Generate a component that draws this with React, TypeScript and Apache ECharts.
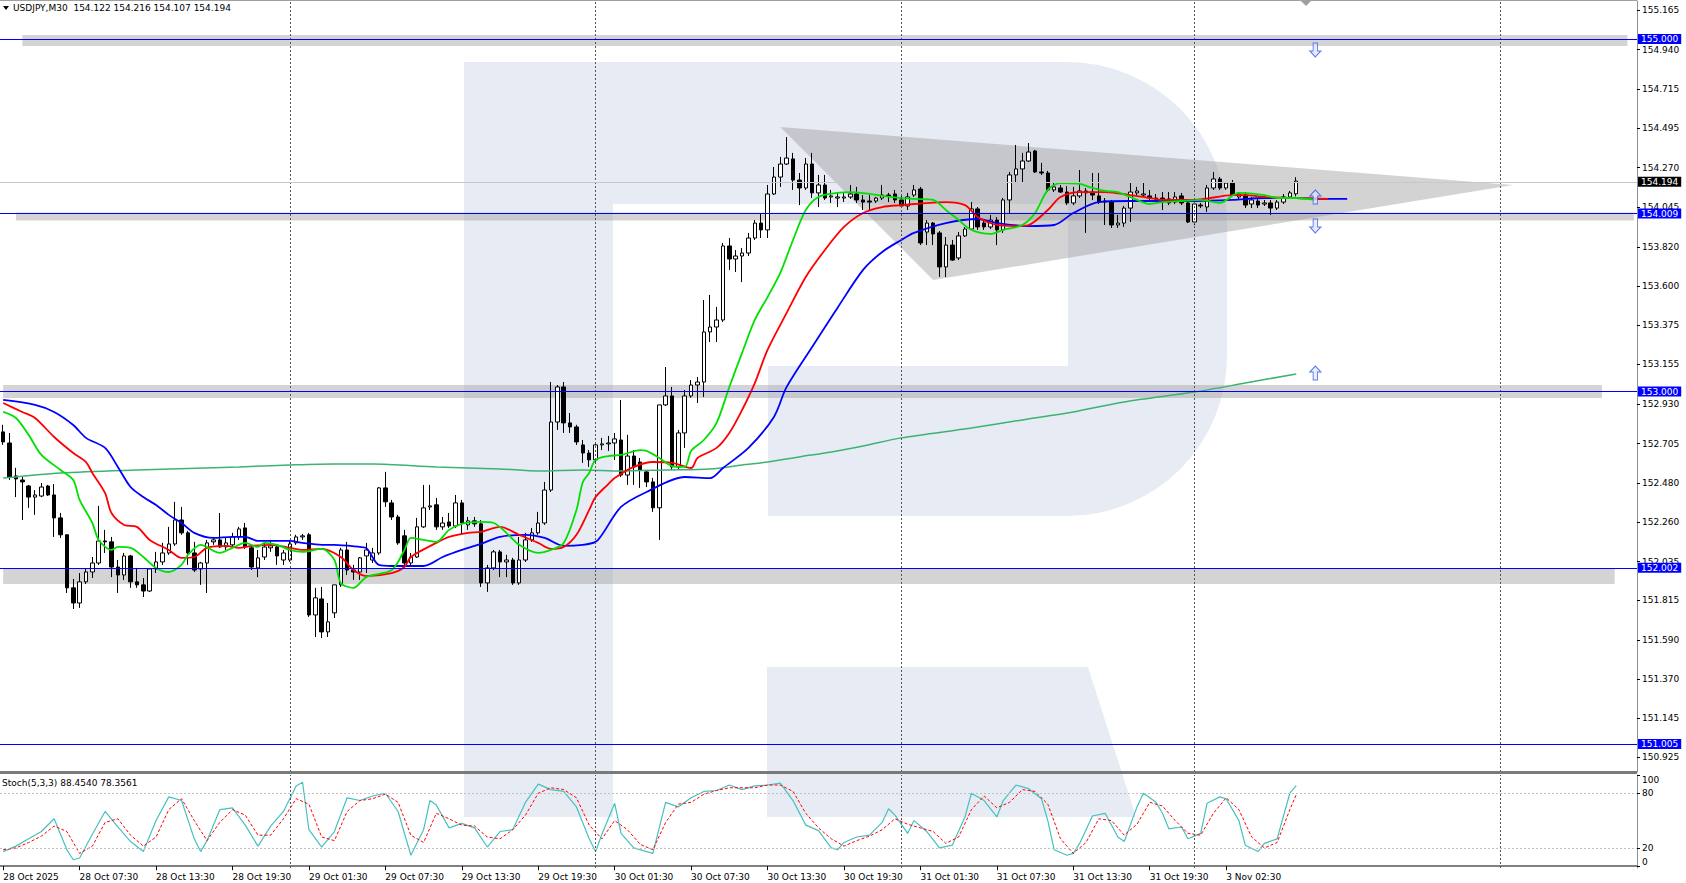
import React, { useEffect, useRef } from "react";
import * as echarts from "echarts";

const FONT = "DejaVu Sans";

const priceTicks = [155.165, 154.94, 154.715, 154.495, 154.27, 154.045, 153.82, 153.6, 153.375, 153.155, 152.93, 152.705, 152.48, 152.26, 152.035, 151.815, 151.59, 151.37, 151.145, 150.925];
const stochTicks = [100, 80, 20, 0];
const timeLabels = ["28 Oct 2025", "28 Oct 07:30", "28 Oct 13:30", "28 Oct 19:30", "29 Oct 01:30", "29 Oct 07:30", "29 Oct 13:30", "29 Oct 19:30", "30 Oct 01:30", "30 Oct 07:30", "30 Oct 13:30", "30 Oct 19:30", "31 Oct 01:30", "31 Oct 07:30", "31 Oct 13:30", "31 Oct 19:30", "3 Nov 02:30"];

const opens = [152.771,152.708,152.521,152.498,152.464,152.401,152.407,152.464,152.413,152.283,152.187,151.886,151.8,151.92,151.976,152.027,152.152,152.147,152.004,151.959,152.067,151.92,151.903,151.868,151.993,152.033,152.084,152.135,152.271,152.198,152.084,151.993,152.027,152.147,152.158,152.118,152.13,152.175,152.226,152.113,151.999,152.061,152.113,152.118,152.044,152.044,152.141,152.175,152.187,151.732,151.823,151.636,151.744,151.903,152.101,151.987,151.976,152.067,152.044,152.084,152.453,152.368,152.288,152.181,152.027,152.061,152.232,152.345,152.357,152.232,152.26,152.237,152.368,152.243,152.266,152.249,151.914,151.999,152.09,152.033,152.044,151.914,152.044,152.158,152.198,152.254,152.441,152.827,153.026,152.822,152.799,152.697,152.651,152.612,152.697,152.703,152.708,152.725,152.526,152.634,152.6,152.544,152.487,152.34,152.924,152.975,152.572,152.765,152.975,153.037,153.054,153.338,153.366,153.406,153.826,153.752,153.769,153.786,153.871,153.956,153.917,154.121,154.217,154.291,154.32,154.2,154.155,154.291,154.127,154.172,154.104,154.098,154.098,154.104,154.121,154.087,154.081,154.081,154.098,154.115,154.121,154.087,154.053,154.115,154.149,153.905,153.956,153.9,153.707,153.831,153.758,153.883,153.922,154.036,153.956,153.934,153.973,153.917,154.087,154.229,154.263,154.308,154.365,154.246,154.24,154.144,154.155,154.132,154.07,154.11,154.138,154.132,154.11,154.081,154.075,153.945,153.956,154.041,154.127,154.115,154.11,154.098,154.098,154.093,154.075,154.11,154.07,153.962,154.058,154.047,154.155,154.206,154.155,154.183,154.104,154.115,154.064,154.081,154.064,154.07,154.041,154.075,154.104,154.122];
const highs = [152.811,152.765,152.567,152.515,152.47,152.441,152.481,152.47,152.475,152.311,152.187,151.936,151.97,151.999,152.061,152.351,152.215,152.175,152.044,152.084,152.073,151.999,151.942,151.999,152.09,152.141,152.232,152.374,152.345,152.209,152.147,152.033,152.158,152.175,152.311,152.169,152.198,152.232,152.254,152.124,152.101,152.141,152.158,152.13,152.101,152.158,152.187,152.192,152.198,151.886,151.891,151.8,151.903,152.113,152.147,152.016,152.061,152.141,152.113,152.458,152.544,152.385,152.3,152.215,152.084,152.283,152.47,152.47,152.396,152.288,152.311,152.413,152.385,152.288,152.288,152.271,152.016,152.101,152.101,152.073,152.056,152.175,152.198,152.226,152.317,152.487,153.054,153.037,153.054,152.878,152.811,152.725,152.668,152.708,152.737,152.748,152.765,152.952,152.754,152.668,152.623,152.555,152.51,152.924,153.139,153.026,152.782,153.009,153.065,153.082,153.519,153.548,153.48,153.843,153.871,153.803,153.814,153.9,153.973,154.013,154.172,154.274,154.331,154.444,154.354,154.24,154.325,154.354,154.229,154.229,154.144,154.132,154.132,154.172,154.161,154.115,154.115,154.104,154.172,154.127,154.144,154.115,154.127,154.172,154.161,153.973,153.962,153.911,153.877,153.86,153.905,153.934,154.075,154.047,153.973,154.002,153.99,154.098,154.246,154.399,154.354,154.41,154.371,154.297,154.252,154.183,154.172,154.166,154.161,154.257,154.155,154.24,154.24,154.098,154.087,154.002,154.053,154.183,154.161,154.183,154.144,154.121,154.132,154.132,154.132,154.127,154.081,154.07,154.07,154.172,154.246,154.217,154.189,154.2,154.132,154.132,154.104,154.098,154.087,154.087,154.087,154.121,154.138,154.216];
const lows = [152.697,152.498,152.401,152.271,152.34,152.3,152.401,152.407,152.175,152.169,151.857,151.766,151.772,151.908,151.942,152.016,152.084,151.947,151.857,151.931,151.886,151.886,151.834,151.863,151.97,152.016,152.073,152.124,152.187,152.016,151.976,151.903,151.857,152.13,152.113,152.101,152.113,152.158,152.107,151.987,151.947,152.044,152.09,152.016,152.016,152.033,152.13,152.158,151.721,151.607,151.601,151.607,151.715,151.891,151.959,151.931,151.931,151.97,152.027,152.073,152.345,152.271,152.13,152.016,152.01,152.056,152.226,152.328,152.215,152.215,152.226,152.226,152.187,152.215,152.232,151.891,151.863,151.987,151.947,151.947,151.903,151.903,152.033,152.147,152.187,152.243,152.43,152.782,152.765,152.765,152.697,152.595,152.572,152.6,152.668,152.663,152.612,152.515,152.47,152.47,152.453,152.458,152.317,152.158,152.918,152.555,152.555,152.68,152.964,152.935,152.969,153.281,153.281,153.395,153.69,153.678,153.621,153.769,153.86,153.871,153.871,154.115,154.161,154.286,154.144,154.058,154.144,154.098,154.047,154.087,154.07,154.047,154.075,154.093,154.07,154.03,154.03,154.07,154.087,154.075,154.07,154.041,154.03,154.104,153.831,153.831,153.831,153.65,153.65,153.741,153.746,153.877,153.917,153.917,153.917,153.922,153.831,153.9,154.013,154.183,154.183,154.303,154.24,154.229,154.132,154.132,154.127,154.058,154.058,154.098,153.9,154.087,154.064,153.945,153.928,153.928,153.934,153.962,154.11,154.104,154.075,154.081,154.03,154.058,154.064,154.058,153.956,153.945,154.041,154.019,154.144,154.144,154.144,154.11,154.087,154.041,154.041,154.041,154.053,154.002,154.03,154.064,154.093,154.107];
const closes = [152.714,152.515,152.504,152.487,152.401,152.413,152.458,152.413,152.283,152.187,151.886,151.8,151.92,151.976,152.027,152.152,152.147,152.004,151.959,152.067,151.92,151.903,151.868,151.993,152.033,152.084,152.135,152.271,152.198,152.084,151.987,152.027,152.141,152.158,152.118,152.141,152.175,152.22,152.118,152.004,152.056,152.118,152.124,152.067,152.084,152.135,152.175,152.181,151.732,151.829,151.636,151.693,151.903,152.101,151.987,151.976,152.056,152.101,152.084,152.453,152.374,152.288,152.141,152.027,152.061,152.232,152.34,152.351,152.232,152.254,152.237,152.368,152.254,152.266,152.249,151.914,151.999,152.09,152.033,152.044,151.914,152.044,152.158,152.198,152.254,152.441,152.827,153.026,152.822,152.799,152.714,152.651,152.612,152.697,152.703,152.708,152.731,152.526,152.634,152.572,152.555,152.487,152.34,152.924,152.975,152.572,152.765,152.975,153.037,153.054,153.338,153.366,153.406,153.826,153.752,153.769,153.786,153.871,153.956,153.917,154.121,154.217,154.291,154.325,154.2,154.155,154.291,154.127,154.172,154.098,154.11,154.104,154.104,154.121,154.087,154.075,154.075,154.098,154.115,154.11,154.087,154.053,154.104,154.144,153.843,153.956,153.894,153.707,153.831,153.746,153.883,153.922,154.036,153.934,153.934,153.973,153.917,154.087,154.229,154.263,154.308,154.359,154.246,154.24,154.144,154.161,154.132,154.07,154.11,154.138,154.127,154.115,154.075,154.075,153.945,153.956,154.041,154.132,154.138,154.121,154.098,154.093,154.087,154.07,154.104,154.07,153.962,154.064,154.053,154.155,154.206,154.155,154.183,154.115,154.121,154.058,154.087,154.058,154.07,154.041,154.075,154.104,154.127,154.194];

// Alligator lines and long MA, read as [bar, price]
const jaw = [[0,152.952],[5,152.924],[8,152.884],[11,152.81],[13,152.737],[16,152.68],[18,152.572],[20,152.458],[22,152.401],[24,152.356],[26,152.3],[28,152.254],[30,152.198],[33,152.169],[36,152.175],[38,152.175],[40,152.152],[45,152.152],[47,152.141],[50,152.13],[52,152.13],[56,152.118],[57,152.112],[59,152.016],[61,152.01],[66,152.01],[69,152.061],[72,152.101],[75,152.135],[78,152.175],[82,152.187],[85,152.169],[88,152.124],[91,152.13],[93,152.147],[94,152.187],[97,152.345],[101,152.43],[107,152.515],[111,152.509],[113,152.566],[117,152.68],[121,152.856],[123,153.026],[127,153.253],[131,153.476],[135,153.69],[138,153.792],[141,153.86],[143,153.9],[148,153.956],[153,153.979],[156,153.956],[161,153.939],[165,153.945],[168,154.013],[172,154.075],[177,154.081],[182,154.081],[187,154.081],[193,154.087],[198,154.098],[203,154.098],[207,154.093],[211,154.093]];
const teeth = [[0,152.935],[3,152.884],[5,152.85],[8,152.742],[11,152.651],[13,152.6],[14,152.538],[16,152.424],[17,152.311],[19,152.243],[21,152.232],[23,152.158],[26,152.101],[28,152.056],[30,152.061],[32,152.113],[35,152.124],[37,152.113],[39,152.124],[42,152.13],[45,152.113],[47,152.101],[50,152.107],[53,152.061],[55,151.987],[57,151.953],[61,151.97],[63,152.004],[64,152.061],[68,152.141],[70,152.175],[73,152.198],[75,152.203],[78,152.232],[81,152.187],[84,152.141],[86,152.107],[88,152.118],[90,152.187],[92,152.328],[93,152.401],[95,152.475],[96,152.509],[99,152.572],[102,152.6],[105,152.595],[108,152.566],[109,152.623],[112,152.68],[114,152.765],[116,152.895],[118,153.048],[120,153.236],[123,153.446],[126,153.65],[129,153.803],[132,153.934],[135,154.013],[138,154.047],[141,154.058],[143,154.064],[148,154.075],[151,154.058],[153,153.99],[156,153.945],[159,153.939],[161,153.945],[164,154.03],[166,154.104],[169,154.132],[173,154.132],[177,154.115],[180,154.098],[182,154.087],[187,154.087],[193,154.115],[195,154.115],[198,154.104],[203,154.098],[208,154.093]];
const lips = [[0,152.884],[2,152.85],[4,152.754],[6,152.64],[9,152.555],[11,152.498],[12,152.385],[14,152.254],[15,152.158],[17,152.101],[18,152.118],[20,152.113],[22,152.061],[24,151.999],[26,151.976],[28,152.016],[29,152.073],[31,152.13],[34,152.084],[36,152.113],[38,152.141],[40,152.118],[41,152.141],[43,152.13],[45,152.101],[47,152.09],[50,152.107],[52,152.044],[53,151.914],[55,151.886],[57,151.947],[61,151.987],[63,152.101],[64,152.169],[66,152.158],[68,152.147],[70,152.215],[72,152.249],[75,152.26],[77,152.254],[79,152.198],[81,152.13],[84,152.084],[86,152.101],[88,152.141],[90,152.328],[91,152.487],[92,152.538],[93,152.612],[95,152.634],[97,152.64],[100,152.668],[101,152.663],[103,152.623],[105,152.577],[107,152.572],[108,152.663],[110,152.725],[112,152.822],[114,153.026],[116,153.219],[118,153.406],[120,153.536],[122,153.673],[124,153.86],[126,154.03],[128,154.104],[131,154.127],[133,154.132],[136,154.121],[138,154.11],[141,154.098],[143,154.093],[146,154.087],[148,154.03],[150,153.973],[152,153.917],[155,153.894],[157,153.917],[160,153.945],[162,154.013],[164,154.144],[166,154.183],[169,154.178],[171,154.155],[173,154.138],[175,154.132],[178,154.087],[180,154.064],[182,154.075],[185,154.081],[188,154.087],[191,154.07],[194,154.127],[198,154.115],[200,154.098],[203,154.098],[206,154.087]];
const slowMA = [[0,152.509],[9,152.538],[21,152.555],[37,152.572],[45,152.583],[52,152.589],[58,152.589],[68,152.572],[78,152.561],[84,152.549],[91,152.555],[97,152.549],[104,152.555],[111,152.561],[116,152.583],[120,152.6],[125,152.629],[130,152.657],[135,152.691],[141,152.737],[152,152.793],[160,152.839],[168,152.884],[176,152.941],[187,152.997],[195,153.048],[203,153.1]];

const stochK = [[0,16],[2,22],[4,30],[6,38],[8,52],[10,18],[11,7],[12,9],[14,35],[16,60],[18,43],[20,27],[22,16],[24,50],[26,76],[28,72],[30,30],[31,16],[32,28],[34,62],[36,64],[38,45],[40,22],[42,44],[44,60],[46,88],[47,92],[48,40],[50,21],[52,38],[54,75],[56,72],[58,77],[60,80],[62,60],[64,12],[66,40],[67,72],[68,67],[70,42],[72,47],[74,42],[76,21],[78,38],[80,40],[82,70],[84,90],[86,84],[88,82],[90,65],[92,30],[93,16],[94,35],[96,69],[97,36],[99,20],[102,14],[104,70],[106,65],[108,75],[110,82],[112,83],[114,89],[116,84],[118,88],[120,89],[122,91],[124,72],[126,45],[128,39],[130,20],[131,18],[132,26],[134,32],[136,34],[138,48],[139,63],[140,56],[142,36],[143,50],[145,38],[147,20],[149,23],[151,54],[152,80],[154,72],[156,54],[157,72],[159,89],[161,85],[163,74],[164,50],[165,18],[167,12],[168,14],[169,25],[171,55],[173,58],[175,32],[176,27],[178,65],[179,80],[181,70],[182,58],[183,41],[185,43],[186,30],[188,36],[189,69],[191,76],[192,74],[194,50],[195,23],[197,16],[198,25],[200,30],[201,55],[202,80],[203,88.454]];
const stochD = [[0,18],[2,20],[4,26],[6,33],[8,44],[10,38],[12,14],[14,22],[16,48],[18,52],[20,34],[22,22],[24,32],[26,62],[28,74],[30,50],[32,28],[34,48],[36,62],[38,56],[40,34],[42,34],[44,52],[46,74],[48,68],[50,32],[52,28],[54,60],[56,72],[58,74],[60,79],[62,70],[64,34],[66,26],[68,58],[70,52],[72,45],[74,44],[76,32],[78,30],[80,40],[82,56],[84,80],[86,86],[88,84],[90,75],[92,45],[94,30],[96,50],[98,40],[100,24],[102,18],[104,48],[106,68],[108,70],[110,79],[112,83],[114,86],[116,86],[118,86],[120,89],[122,89],[124,82],[126,58],[128,42],[130,30],[132,22],[134,28],[136,33],[138,40],[140,52],[142,46],[144,42],[146,38],[148,25],[150,32],[152,62],[154,77],[156,64],[158,70],[160,84],[162,82],[164,68],[166,30],[168,14],[170,26],[172,52],[174,50],[176,34],[178,46],[180,70],[182,66],[184,50],[186,36],[188,34],[190,58],[192,75],[194,62],[196,32],[198,20],[200,26],[202,62],[203,78.356]];

const levels = [155.0, 154.009, 153.0, 152.002, 151.005];
const lastPrice = 154.194;
// zones: [fromBar, toBar, top, bottom]
const zones = [[3, 255, 155.023, 154.961], [2, 256, 154.016, 153.971], [0, 251, 153.037, 152.963], [0, 253, 151.999, 151.908]];
const triangle = [[122, 154.501], [237, 154.172], [146, 153.633]];
const arrows = [[206, 154.938, "down"], [206, 154.104, "up"], [206, 153.939, "down"], [206, 153.105, "up"]];
const daySeparators = [45, 93, 141, 187, 235];
const header = "USDJPY,M30  154.122 154.216 154.107 154.194";
const stochTitle = "Stoch(5,3,3) 88.4540 78.3561";

function buildCategories(): string[] {
  const months = ["Jan", "Feb", "Mar", "Apr", "May", "Jun", "Jul", "Aug", "Sep", "Oct", "Nov", "Dec"];
  const pad = (n: number) => (n < 10 ? "0" + n : "" + n);
  const start = Date.UTC(2025, 9, 28, 1, 30);
  const out: string[] = [];
  for (let i = 0; i < 257; i++) {
    let t = start + i * 1800000;
    if (i >= 187) t += 49 * 3600000;
    const d = new Date(t);
    out.push(`${d.getUTCDate()} ${months[d.getUTCMonth()]} ${pad(d.getUTCHours())}:${pad(d.getUTCMinutes())}`);
  }
  return out;
}

const UP = "path://M5 0 L10 6 L7 6 L7 14 L3 14 L3 6 L0 6 Z";
const DOWN = "path://M3 0 L7 0 L7 8 L10 8 L5 14 L0 8 L3 8 Z";

export default function App() {
  const ref = useRef<HTMLDivElement>(null);
  useEffect(() => {
    const chart = echarts.init(ref.current!, null, { renderer: "svg" });
    const cats = buildCategories();
    const labelSet = new Set(timeLabels);
    const showLabel = (i: number, v: string) => i === 0 || labelSet.has(v);
    const candleData = opens.map((o, i) => [o, closes[i], lows[i], highs[i]]);
    const WM = "#e7ebf3";
    const txt = { fontFamily: FONT, fontSize: 9, color: "#000" };

    const levelLines: any[] = levels.map((v) => ({
      yAxis: v,
      lineStyle: { color: "#0000ff", width: 1, type: "solid" },
      label: {
        show: true, position: "end", distance: 1, formatter: v.toFixed(3),
        backgroundColor: "#0000ff", color: "#fff", fontFamily: FONT, fontSize: 9,
        padding: [1, 3, 0, 3], lineHeight: 9,
      },
    }));
    levelLines.push({
      yAxis: lastPrice,
      lineStyle: { color: "#c8c8c8", width: 1, type: "solid" },
      label: {
        show: true, position: "end", distance: 1, formatter: lastPrice.toFixed(3),
        backgroundColor: "#000", color: "#fff", fontFamily: FONT, fontSize: 9,
        padding: [1, 3, 0, 3], lineHeight: 9,
      },
    });
    const sepLines = daySeparators.map((b) => ({
      xAxis: cats[b],
      lineStyle: { color: "#555", width: 1, type: [2, 2] },
      label: { show: false },
    }));

    const alligator = (data: number[][], color: string, w: number, z = 3) => ({
      type: "line", xAxisIndex: 0, yAxisIndex: 0, data, showSymbol: false, symbol: "none",
      smooth: 0.3, lineStyle: { color, width: w }, z, silent: true,
    });

    const option: any = {
      animation: false,
      backgroundColor: "#ffffff",
      grid: [
        { left: -4.7, right: 49, top: 1, height: 771 },
        { left: -4.7, right: 49, top: 775, height: 93 },
      ],
      xAxis: [
        { type: "category", gridIndex: 0, data: cats, boundaryGap: true, show: false },
        {
          type: "category", gridIndex: 1, data: cats, boundaryGap: true,
          axisLine: { show: true, lineStyle: { color: "#808080", width: 2 } },
          axisTick: { show: true, alignWithLabel: true, interval: showLabel, length: 4, lineStyle: { color: "#000" } },
          axisLabel: {
            show: true, interval: showLabel, align: "left", margin: 4, ...txt,
            formatter: (v: string, i: number) => (i === 0 ? timeLabels[0] : v),
          },
          splitLine: { show: false },
        },
      ],
      yAxis: [
        {
          type: "value", gridIndex: 0, position: "right", min: 150.841, max: 155.216,
          axisLine: { show: true, lineStyle: { color: "#909090" } },
          axisTick: { show: true, length: 3, customValues: priceTicks, lineStyle: { color: "#000" } },
          axisLabel: { show: true, customValues: priceTicks, margin: 5, ...txt, formatter: (v: number) => v.toFixed(3) },
          splitLine: { show: false },
        },
        {
          type: "value", gridIndex: 1, position: "right", min: -2, max: 100,
          axisLine: { show: true, lineStyle: { color: "#909090" } },
          axisTick: { show: true, length: 3, customValues: stochTicks, lineStyle: { color: "#000" } },
          axisLabel: {
            show: true, customValues: stochTicks, margin: 5, ...txt,
            formatter: (v: number) => (v === 100 ? "{t|100}" : v === 0 ? "{b|0}" : String(v)),
            rich: {
              t: { ...txt, padding: [10, 0, 0, 0] },
              b: { ...txt, padding: [0, 0, 8, 0] },
            },
          },
          splitLine: { show: false },
        },
      ],
      graphic: {
        elements: [
          { type: "rect", z: 0.2, silent: true, shape: { x: 464, y: 62, width: 149, height: 755 }, style: { fill: WM } },
          { type: "rect", z: 0.2, silent: true, shape: { x: 464, y: 62, width: 763, height: 454, r: [0, 160, 160, 0] }, style: { fill: WM } },
          { type: "polygon", z: 0.2, silent: true, shape: { points: [[767, 667], [1088, 667], [1136, 817], [767, 817]] }, style: { fill: WM } },
          { type: "rect", z: 0.5, silent: true, shape: { x: 613, y: 204, width: 455, height: 162 }, style: { fill: "#fff" } },
          { type: "rect", z: 0.5, silent: true, shape: { x: 613, y: 366, width: 155, height: 150 }, style: { fill: "#fff" } },
          { type: "rect", z: 10, silent: true, shape: { x: 0, y: 771, width: 1637, height: 3 }, style: { fill: "#7a7a7a" } },
          { type: "line", z: 10, silent: true, shape: { x1: 0, y1: 0.5, x2: 1637, y2: 0.5 }, style: { stroke: "#a0a0a0", lineWidth: 1 } },
          { type: "polygon", z: 10, silent: true, shape: { points: [[1301, 1], [1311, 1], [1306, 6]] }, style: { fill: "#a0a0a0" } },
          { type: "polygon", z: 10, silent: true, shape: { points: [[3, 6], [9, 6], [6, 10]] }, style: { fill: "#000" } },
          { type: "text", z: 10, silent: true, x: 13, y: 3, style: { text: header, font: `9px '${FONT}'`, fill: "#000" } },
          { type: "text", z: 10, silent: true, x: 2, y: 778, style: { text: stochTitle, font: `9px '${FONT}'`, fill: "#000" } },
        ],
      },
      series: [
        {
          type: "custom", xAxisIndex: 0, yAxisIndex: 0, z: 1, silent: true,
          data: [[0, 154]],
          renderItem: (_p: any, api: any) => ({
            type: "polygon",
            shape: { points: triangle.map((pt) => api.coord(pt)) },
            style: { fill: "rgba(150,150,150,0.42)" },
          }),
        },
        {
          type: "candlestick", xAxisIndex: 0, yAxisIndex: 0, data: candleData, barWidth: 4, z: 2, silent: true,
          itemStyle: { color: "#ffffff", color0: "#000000", borderColor: "#000000", borderColor0: "#000000", borderWidth: 1 },
          markArea: {
            silent: true,
            itemStyle: { color: "rgba(160,160,160,0.45)" },
            data: zones.map((zn) => [
              { xAxis: cats[zn[0]], yAxis: zn[2] },
              { xAxis: cats[zn[1]], yAxis: zn[3] },
            ]),
          },
          markLine: { silent: true, symbol: ["none", "none"], animation: false, data: [...sepLines, ...levelLines] },
        },
        alligator(slowMA, "#3cb371", 1.5, 2.5),
        alligator(jaw, "#0000ff", 1.8),
        alligator(teeth, "#ff0000", 1.8),
        alligator(lips, "#00e000", 1.8),
        {
          type: "scatter", xAxisIndex: 0, yAxisIndex: 0, z: 4, silent: true, symbolSize: [11, 14],
          itemStyle: { color: "rgba(225,232,255,0.9)", borderColor: "#3355ee", borderWidth: 1 },
          data: arrows.map((a) => ({ value: [a[0], a[1]], symbol: a[2] === "up" ? UP : DOWN })),
        },
        {
          type: "line", xAxisIndex: 1, yAxisIndex: 1, data: stochK, showSymbol: false, symbol: "none",
          lineStyle: { color: "#48c0c0", width: 1.2 }, z: 3, silent: true,
          markLine: {
            silent: true, symbol: ["none", "none"], animation: false,
            data: [
              { yAxis: 80, lineStyle: { color: "#c0c0c0", type: [2, 2], width: 1 }, label: { show: false } },
              { yAxis: 20, lineStyle: { color: "#c0c0c0", type: [2, 2], width: 1 }, label: { show: false } },
              ...sepLines,
            ],
          },
        },
        {
          type: "line", xAxisIndex: 1, yAxisIndex: 1, data: stochD, showSymbol: false, symbol: "none",
          lineStyle: { color: "#ff0000", width: 1, type: [3, 2] }, z: 3, silent: true,
        },
      ],
    };
    chart.setOption(option);
    return () => chart.dispose();
  }, []);
  return <div ref={ref} style={{ position: "fixed", left: 0, top: 0, width: 1686, height: 883 }} />;
}
